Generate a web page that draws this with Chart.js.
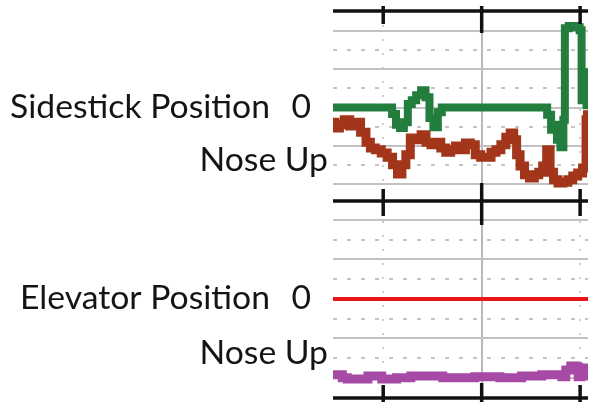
<!DOCTYPE html>
<html>
<head>
<meta charset="utf-8">
<script src="https://cdn.jsdelivr.net/npm/chart.js@4.4.0/dist/chart.umd.min.js"></script>
<style>
  html, body { margin: 0; padding: 0; background: #fff; }
</style>
</head>
<body>
<canvas id="myChart" width="594" height="402"></canvas>
<script>
// time axis (s), one mark per second
let timeTicks = [1, 2, 3];
// grid values used by both panels (solid on whole units, dashed on halves)
let gridValues = [-2, -1.5, -1, -0.5, 0, 0.5, 1, 1.5, 2];

// top panel: sidestick positions
let stickTimeA = [0.49, 1.07, 1.11, 1.15, 1.19, 1.23, 1.27, 1.31, 1.36, 1.41, 1.45, 1.49, 1.53, 1.58, 1.61,
  2.64, 2.69, 2.72, 2.75, 2.78, 2.82, 2.84, 2.85, 2.92, 2.98, 3.01, 3.02, 3.03, 3.05, 3.06, 3.07, 3.08];
let stickA = [0, 0, -0.17, -0.45, -0.53, -0.38, 0.09, 0.19, 0.32, 0.45, 0.27, -0.27, -0.51, -0.12, 0,
  0, -0.19, -0.58, -0.45, -0.84, -1.03, -0.32, 2.06, 2.12, 2.09, 2.01, 0.19, 0.92, 0.32, 0.92, 0.06, 0.71];

let stickTimeB = [0.49, 0.53, 0.58, 0.63, 0.69, 0.74, 0.80, 0.85, 0.89, 0.95, 1.01, 1.07, 1.12, 1.17, 1.21,
  1.25, 1.30, 1.36, 1.41, 1.46, 1.51, 1.56, 1.61, 1.66, 1.71, 1.76, 1.81, 1.86, 1.91, 1.96, 2.02, 2.07,
  2.12, 2.17, 2.22, 2.27, 2.31, 2.34, 2.37, 2.41, 2.46, 2.51, 2.56, 2.60, 2.64, 2.68, 2.71, 2.75, 2.80,
  2.85, 2.90, 2.95, 3.00, 3.05, 3.07, 3.08];
let stickB = [-0.38, -0.53, -0.45, -0.32, -0.48, -0.38, -0.64, -0.90, -1.05, -1.10, -1.18, -1.29, -1.49, -1.73, -1.49,
  -1.23, -0.79, -0.84, -0.71, -0.90, -0.97, -0.90, -1.05, -1.16, -1.10, -1.00, -1.10, -0.92, -0.97, -1.23, -1.29, -1.29,
  -1.16, -1.10, -0.97, -0.77, -0.66, -0.84, -1.23, -1.52, -1.75, -1.83, -1.75, -1.68, -1.52, -1.10, -1.68, -1.88, -1.96,
  -1.94, -1.88, -1.78, -1.70, -1.57, -0.32, -0.19];

// bottom panel: elevator positions
let elevTimeA = [0.49, 3.08];
let elevA = [0, 0];
let elevTimeB = [0.49, 0.56, 0.61, 0.66, 0.82, 0.87, 0.97, 1.00, 1.27, 1.29, 1.58, 1.63, 1.88, 1.98, 2.39,
  2.42, 2.80, 2.83, 2.88, 2.93, 2.97, 2.99, 3.02, 3.05, 3.08];
let elevB = [-1.92, -1.92, -2.00, -2.03, -2.03, -1.95, -1.95, -2.03, -2.00, -1.95, -1.95, -2.00, -2.00, -1.97, -2.00,
  -1.95, -1.92, -1.97, -1.80, -1.70, -1.72, -1.97, -1.95, -1.80, -1.75];

// left side texts
let panelNames = ['Sidestick Position', 'Elevator Position'];
let levelText = ['0', 'Nose Up'];
let levelValue = [0, -1.35];

function points(t, v) {
  return t.map((x, i) => ({x: x, y: v[i]}));
}

function halfStep(ctx) {
  return ctx.tick && ctx.tick.value % 1 !== 0;
}

function panelScale(min, max, weight, stackWeight) {
  return {
    type: 'linear',
    position: 'left',
    stack: 'panels',
    stackWeight: stackWeight,
    weight: weight,
    min: min,
    max: max,
    afterBuildTicks: s => { s.ticks = gridValues.map(v => ({value: v})); },
    afterFit: s => { s.width = 333; },
    ticks: {display: false},
    grid: {
      drawTicks: false,
      lineWidth: 2,
      color: ctx => halfStep(ctx) ? '#c4c4c4' : '#c2c2c2'
    },
    border: {
      display: false,
      dash: ctx => halfStep(ctx) ? [4, 10] : []
    }
  };
}

const frame = {
  id: 'frame',
  afterDatasetsDraw(chart) {
    const ctx = chart.ctx;
    const area = chart.chartArea;
    const xs = chart.scales.x, ys = chart.scales.ySide, ye = chart.scales.yElev;
    ctx.save();
    ctx.strokeStyle = '#111';
    ctx.lineWidth = 3.5;
    [ys.top, ys.bottom, ye.bottom].forEach(y => {
      ctx.beginPath();
      ctx.moveTo(area.left, y);
      ctx.lineTo(area.right, y);
      ctx.stroke();
    });
    timeTicks.forEach(v => {
      const px = xs.getPixelForValue(v);
      const big = v === 2;
      const segs = [
        [ys.top - 5, ys.top + (big ? 22 : 13)],
        [ys.bottom - (big ? 18 : 12), ys.bottom + (big ? 24 : 15)],
        [ye.bottom - (big ? 15 : 13), ye.bottom + 5]
      ];
      segs.forEach(s => {
        ctx.beginPath();
        ctx.moveTo(px, s[0]);
        ctx.lineTo(px, s[1]);
        ctx.stroke();
      });
    });
    ctx.restore();
  },
  afterDraw(chart) {
    const ctx = chart.ctx;
    const scales = [chart.scales.ySide, chart.scales.yElev];
    ctx.save();
    ctx.font = '100px Lato';
    const size = 100 * 260 / ctx.measureText(panelNames[0]).width;
    ctx.font = size + 'px Lato';
    const cap = ctx.measureText('H').actualBoundingBoxAscent;
    ctx.fillStyle = '#141414';
    ctx.textAlign = 'right';
    ctx.textBaseline = 'alphabetic';
    scales.forEach((s, i) => {
      const y0 = s.getPixelForValue(0) + cap / 2 - 1.5;
      ctx.fillText(panelNames[i], 270, y0);
      ctx.fillText(levelText[0], 311, s.getPixelForValue(levelValue[0]) + cap / 2 - 1.5);
      ctx.fillText(levelText[1], 328, s.getPixelForValue(levelValue[1]) + cap / 2);
    });
    ctx.restore();
  }
};

const data = {
  datasets: [
    {data: points(stickTimeA, stickA), yAxisID: 'ySide', borderColor: '#237d3c', borderWidth: 8, stepped: 'middle'},
    {data: points(stickTimeB, stickB), yAxisID: 'ySide', borderColor: '#a3351b', borderWidth: 9, stepped: 'middle'},
    {data: points(elevTimeA, elevA), yAxisID: 'yElev', borderColor: '#e8161b', borderWidth: 4},
    {data: points(elevTimeB, elevB), yAxisID: 'yElev', borderColor: '#a64aa6', borderWidth: 9, stepped: 'middle'}
  ]
};

const config = {
  type: 'line',
  data: data,
  options: {
    responsive: false,
    animation: false,
    layout: {padding: {top: 11, bottom: 4, left: 0, right: 6}},
    elements: {point: {radius: 0}, line: {tension: 0, borderJoinStyle: 'miter'}},
    plugins: {legend: {display: false}, tooltip: {enabled: false}},
    scales: {
      x: {
        type: 'linear',
        min: 0.49,
        max: 3.08,
        afterBuildTicks: s => { s.ticks = timeTicks.map(v => ({value: v})); },
        afterFit: s => { s.height = 0; },
        ticks: {display: false},
        grid: {
          drawTicks: false,
          lineWidth: 2,
          color: ctx => ctx.tick && ctx.tick.value === 2 ? '#b8b8b8' : '#cdcdcd'
        },
        border: {
          display: false,
          dash: ctx => ctx.tick && ctx.tick.value !== 2 ? [2, 12] : []
        }
      },
      ySide: panelScale(-2.43, 2.51, 2, 190),
      yElev: panelScale(-2.51, 2.48, 1, 197)
    }
  },
  plugins: [frame]
};

var ctx = document.getElementById('myChart');
var mychart = new Chart(ctx, config);
</script>
</body>
</html>
